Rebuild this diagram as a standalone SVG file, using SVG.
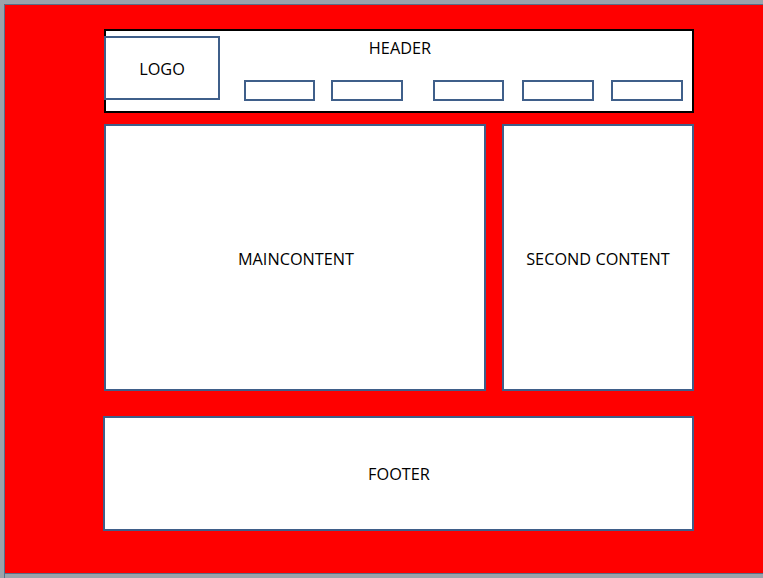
<svg xmlns="http://www.w3.org/2000/svg" width="763" height="578" viewBox="0 0 763 578">
<style>
.box{fill:#fff;stroke:#3f5f8a;stroke-width:2}
.t{font-family:"Open Sans","Liberation Sans",sans-serif;font-size:16.3px;fill:#000;text-anchor:middle;dominant-baseline:central}
</style>
<rect x="0" y="0" width="763" height="578" fill="#9aa3ab"/>
<rect x="4" y="4" width="760" height="570" fill="#ff0000"/>
<path d="M4.5 578 V4.5 H763" fill="none" stroke="#5a6f88" stroke-width="1"/>
<path d="M4 573.5 H763" fill="none" stroke="#5a6f88" stroke-width="1"/>
<g id="header">
<rect x="105" y="30" width="588" height="82" fill="#fff" stroke="#000" stroke-width="2"/>
<text class="t" x="400" y="48">HEADER</text>
</g>
<g id="logo">
<rect class="box" x="105" y="37" width="114" height="62"/>
<text class="t" x="162" y="69">LOGO</text>
</g>
<g id="nav1"><rect class="box" x="245" y="81" width="69" height="19"/></g>
<g id="nav2"><rect class="box" x="332" y="81" width="70" height="19"/></g>
<g id="nav3"><rect class="box" x="434" y="81" width="69" height="19"/></g>
<g id="nav4"><rect class="box" x="523" y="81" width="70" height="19"/></g>
<g id="nav5"><rect class="box" x="612" y="81" width="70" height="19"/></g>
<g id="main">
<rect class="box" x="105" y="125" width="380" height="265"/>
<text class="t" x="296" y="259">MAINCONTENT</text>
</g>
<g id="second">
<rect class="box" x="503" y="125" width="190" height="265"/>
<text class="t" x="598" y="259">SECOND CONTENT</text>
</g>
<g id="footer">
<rect class="box" x="104" y="417" width="589" height="113"/>
<text class="t" x="399" y="474">FOOTER</text>
</g>
<g id="connectors"/>
</svg>
